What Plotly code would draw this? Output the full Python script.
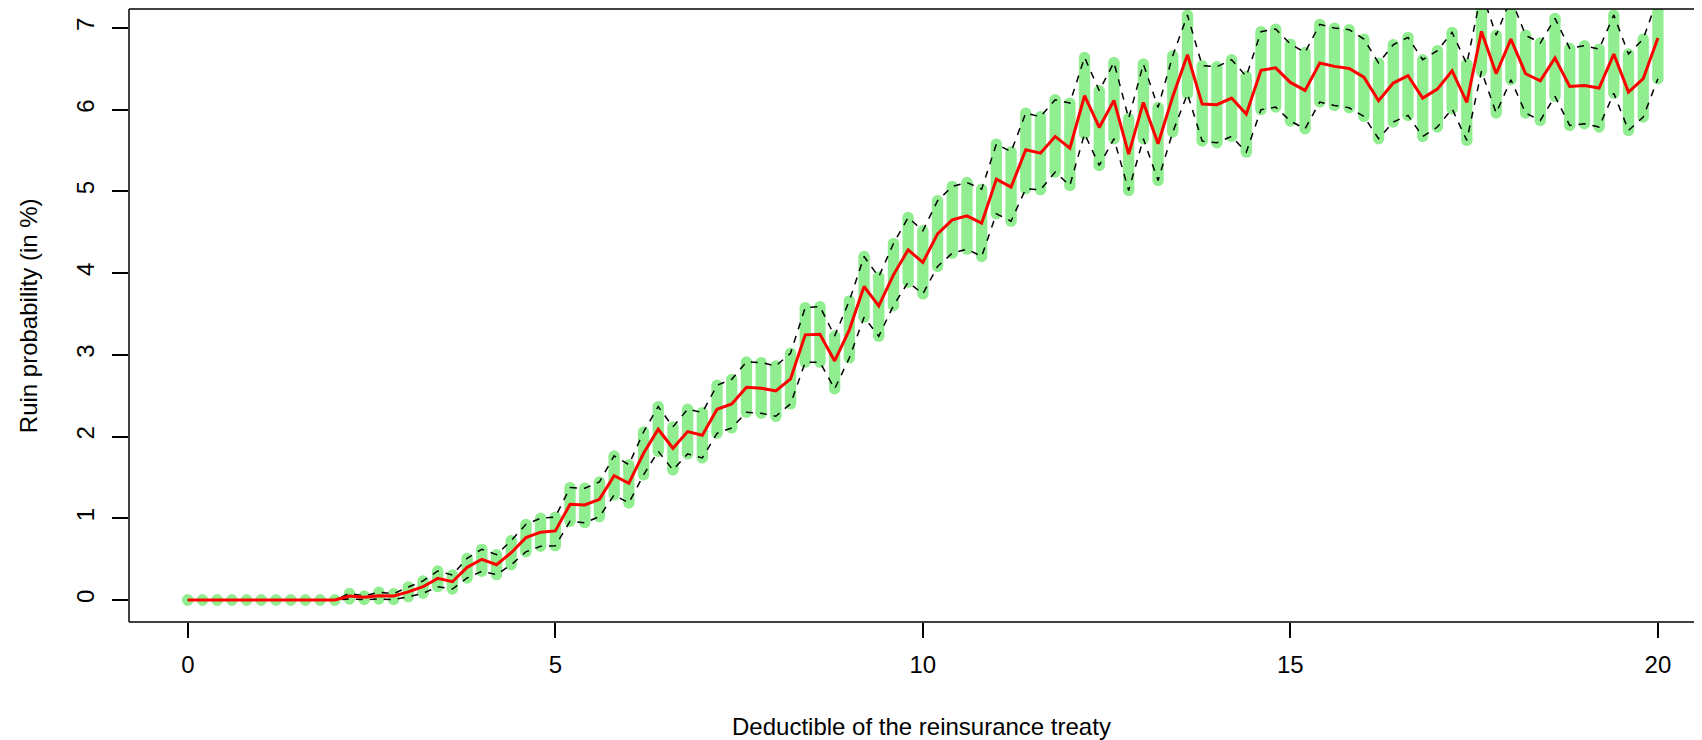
import plotly.graph_objects as go

# Deductible grid (x values)
deductible = [0.0, 0.2, 0.4, 0.6, 0.8, 1.0, 1.2, 1.4, 1.6, 1.8,
              2.0, 2.2, 2.4, 2.6, 2.8, 3.0, 3.2, 3.4, 3.6, 3.8,
              4.0, 4.2, 4.4, 4.6, 4.8, 5.0, 5.2, 5.4, 5.6, 5.8,
              6.0, 6.2, 6.4, 6.6, 6.8, 7.0, 7.2, 7.4, 7.6, 7.8,
              8.0, 8.2, 8.4, 8.6, 8.8, 9.0, 9.2, 9.4, 9.6, 9.8,
              10.0, 10.2, 10.4, 10.6, 10.8, 11.0, 11.2, 11.4, 11.6, 11.8,
              12.0, 12.2, 12.4, 12.6, 12.8, 13.0, 13.2, 13.4, 13.6, 13.8,
              14.0, 14.2, 14.4, 14.6, 14.8, 15.0, 15.2, 15.4, 15.6, 15.8,
              16.0, 16.2, 16.4, 16.6, 16.8, 17.0, 17.2, 17.4, 17.6, 17.8,
              18.0, 18.2, 18.4, 18.6, 18.8, 19.0, 19.2, 19.4, 19.6, 19.8,
              20.0]

# Estimated ruin probability (in %)
mean_ruin = [0, 0, 0, 0, 0, 0, 0, 0, 0, 0,
             0, 0.049, 0.033, 0.053, 0.049, 0.10, 0.163, 0.265, 0.224, 0.40,
             0.498, 0.432, 0.579, 0.763, 0.83, 0.845, 1.171, 1.163, 1.232, 1.522,
             1.428, 1.795, 2.089, 1.856, 2.06, 2.015, 2.334, 2.399, 2.603, 2.591,
             2.558, 2.705, 3.244, 3.252, 2.925, 3.305, 3.835, 3.599, 3.978, 4.284,
             4.129, 4.48, 4.651, 4.70, 4.61, 5.149, 5.051, 5.508, 5.467, 5.671,
             5.528, 6.169, 5.781, 6.112, 5.455, 6.087, 5.581, 6.161, 6.671, 6.067,
             6.059, 6.14, 5.944, 6.48, 6.51, 6.332, 6.234, 6.569, 6.528, 6.503,
             6.397, 6.108, 6.324, 6.414, 6.14, 6.25, 6.475, 6.087, 6.956, 6.438,
             6.862, 6.438, 6.352, 6.63, 6.283, 6.295, 6.263, 6.679, 6.214, 6.377,
             6.875]

# Upper confidence bound
upper_ruin = [0, 0, 0, 0, 0, 0, 0, 0, 0, 0,
              0, 0.082, 0.05, 0.097, 0.077, 0.159, 0.233, 0.355, 0.306, 0.51,
              0.62, 0.555, 0.726, 0.926, 1.0, 1.015, 1.375, 1.367, 1.444, 1.763,
              1.656, 2.056, 2.366, 2.118, 2.334, 2.293, 2.627, 2.70, 2.913, 2.905,
              2.864, 3.019, 3.578, 3.59, 3.231, 3.66, 4.202, 3.953, 4.361, 4.68,
              4.517, 4.884, 5.059, 5.108, 5.026, 5.578, 5.483, 5.957, 5.912, 6.12,
              6.079, 6.638, 6.23, 6.577, 5.891, 6.557, 6.026, 6.659, 7.156, 6.536,
              6.524, 6.61, 6.405, 6.952, 6.985, 6.801, 6.699, 7.042, 6.997, 6.977,
              6.862, 6.569, 6.793, 6.883, 6.61, 6.72, 6.944, 6.557, 7.44, 6.91,
              7.36, 6.91, 6.814, 7.115, 6.748, 6.781, 6.74, 7.156, 6.68, 6.862,
              7.37]

# Lower confidence bound
lower_ruin = [0, 0, 0, 0, 0, 0, 0, 0, 0, 0,
              0, 0.012, 0.005, 0.012, 0.005, 0.04, 0.082, 0.163, 0.135, 0.269,
              0.351, 0.31, 0.432, 0.59, 0.657, 0.665, 0.963, 0.946, 1.02, 1.285,
              1.187, 1.53, 1.82, 1.591, 1.787, 1.738, 2.04, 2.105, 2.297, 2.285,
              2.248, 2.399, 2.909, 2.909, 2.583, 2.962, 3.46, 3.227, 3.602, 3.888,
              3.745, 4.08, 4.243, 4.292, 4.202, 4.725, 4.635, 5.03, 5.018, 5.235,
              5.071, 5.704, 5.316, 5.643, 5.01, 5.643, 5.132, 5.724, 6.193, 5.614,
              5.594, 5.671, 5.479, 5.998, 6.03, 5.859, 5.765, 6.092, 6.05, 6.022,
              5.916, 5.643, 5.847, 5.928, 5.671, 5.786, 6.01, 5.622, 6.47, 5.957,
              6.365, 5.957, 5.867, 6.161, 5.806, 5.826, 5.786, 6.2, 5.745, 5.908,
              6.377]

x_ticks = [0, 5, 10, 15, 20]
y_ticks = [0, 1, 2, 3, 4, 5, 6, 7]
x_title = "Deductible of the reinsurance treaty"
y_title = "Ruin probability (in %)"

GREEN = "#90EE90"
BAR_W = 11.3

seg_x, seg_y = [], []
for xv, lo, up in zip(deductible, lower_ruin, upper_ruin):
    seg_x += [xv, xv, None]
    seg_y += [lo, up, None]

fig = go.Figure()
# green vertical interval segments
fig.add_trace(go.Scatter(x=seg_x, y=seg_y, mode="lines",
                         line=dict(color=GREEN, width=BAR_W),
                         hoverinfo="skip", showlegend=False))
# round caps
fig.add_trace(go.Scatter(x=deductible + deductible, y=lower_ruin + upper_ruin,
                         mode="markers",
                         marker=dict(color=GREEN, size=BAR_W, line=dict(width=0)),
                         hoverinfo="skip", showlegend=False))
# dashed bounds
fig.add_trace(go.Scatter(x=deductible, y=upper_ruin, mode="lines",
                         line=dict(color="black", width=1.5, dash="7px,7px"),
                         showlegend=False))
fig.add_trace(go.Scatter(x=deductible, y=lower_ruin, mode="lines",
                         line=dict(color="black", width=1.5, dash="7px,7px"),
                         showlegend=False))
# mean
fig.add_trace(go.Scatter(x=deductible, y=mean_ruin, mode="lines",
                         line=dict(color="#FF0000", width=3),
                         showlegend=False))

FONT = "Liberation Sans, Arial, Helvetica, sans-serif"
FRAME = dict(color="black", width=1.5)

# the page body adds an 8px margin, so the figure is offset by 8px
fig.update_layout(
    width=1694, height=732,
    margin=dict(l=121, r=0, t=1, b=118, pad=0),
    plot_bgcolor="white", paper_bgcolor="white",
    showlegend=False,
    font=dict(family=FONT, size=24, color="black"),
    xaxis=dict(range=[-0.8, 20.6], tickvals=x_ticks,
               ticktext=[str(v) for v in x_ticks],
               ticks="outside", ticklen=15, tickwidth=1.5, tickcolor="black",
               showline=False, showgrid=False, zeroline=False,
               ticklabelstandoff=6,
               tickfont=dict(family=FONT, size=24, color="black")),
    yaxis=dict(range=[-0.269, 7.23], tickvals=y_ticks,
               ticktext=[str(v) for v in y_ticks],
               ticks="outside", ticklen=16, tickwidth=1.5, tickcolor="black",
               showline=False, showgrid=False, zeroline=False, tickangle=-90,
               ticklabelstandoff=8,
               tickfont=dict(family=FONT, size=24, color="black")),
    shapes=[
        dict(type="line", xref="paper", yref="paper", x0=0, x1=1.01, y0=0, y1=0, line=FRAME),
        dict(type="line", xref="paper", yref="paper", x0=0, x1=1.01, y0=1, y1=1, line=FRAME),
        dict(type="line", xref="paper", yref="paper", x0=0, x1=0, y0=0, y1=1, line=FRAME),
    ],
    annotations=[
        dict(text=x_title, xref="paper", yref="paper", x=0.5041, y=-0.1705,
             xanchor="center", yanchor="middle", showarrow=False,
             font=dict(family=FONT, size=24, color="black")),
        dict(text=y_title, xref="paper", yref="paper", x=-0.06376, y=0.5,
             xanchor="center", yanchor="middle", showarrow=False, textangle=-90,
             font=dict(family=FONT, size=24, color="black")),
    ],
)

fig.write_html("out.html")
